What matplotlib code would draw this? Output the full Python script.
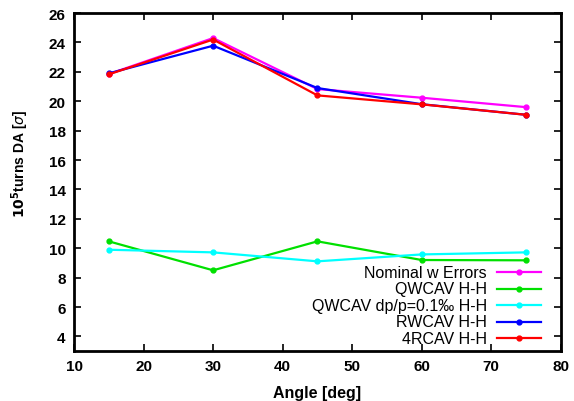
import matplotlib
matplotlib.use("Agg")
import matplotlib.pyplot as plt

angles = [15, 30, 45, 60, 75]
nominal = [21.85, 24.3, 20.83, 20.24, 19.6]
qwcav = [10.47, 8.5, 10.47, 9.2, 9.18]
qwcav_dp = [9.9, 9.72, 9.11, 9.58, 9.72]
rwcav = [21.9, 23.78, 20.9, 19.8, 19.08]
r4cav = [21.83, 24.2, 20.4, 19.79, 19.08]

labels = ["Nominal w Errors", "QWCAV H-H", "QWCAV dp/p=0.1\u2030 H-H", "RWCAV H-H", "4RCAV H-H"]
colors = ["#ff00ff", "#00e000", "#00ffff", "#0000ff", "#ff0000"]
series = [nominal, qwcav, qwcav_dp, rwcav, r4cav]

plt.rcParams['font.family'] = ['Liberation Sans', 'DejaVu Sans']

fig = plt.figure(figsize=(5.74, 4.02), dpi=100)
ax = fig.add_axes([0.129, 0.124, 0.848, 0.841])

for ys, c, lab in zip(series, colors, labels):
    ax.plot(angles, ys, color=c, lw=1.6, marker='o', ms=3.5, label=lab)

ax.set_xlim(10, 80)
ax.set_ylim(3, 26)
ax.set_xticks(range(10, 81, 10))
ax.set_yticks(range(4, 27, 2))
ax.tick_params(direction='in', top=True, right=True, length=5, width=1.2, labelsize=11, pad=6)
for lbl in ax.get_xticklabels() + ax.get_yticklabels():
    lbl.set_fontweight('bold')
for s in ax.spines.values():
    s.set_linewidth(2)

ax.set_xlabel("Angle [deg]", fontsize=11.5, fontweight='bold', va='center')
ax.xaxis.set_label_coords(0.5, -0.121)
ax.set_ylabel(r"$\mathbf{10^5}$turns DA [$\sigma$]", fontsize=10, fontweight='bold',
              va='center', ha='center')
ax.yaxis.set_label_coords(-0.111, 0.556)

# gnuplot-style legend: right-aligned text, then line sample with a marker
y0, dy = 0.234, 0.049
tx, hx0, hx1 = 0.848, 0.869, 0.959
for i, (c, lab) in enumerate(zip(colors, labels)):
    yy = y0 - i * dy
    ax.text(tx, yy, lab, transform=ax.transAxes, ha='right', va='center', fontsize=11.5)
    ax.plot([hx0, (hx0 + hx1) / 2, hx1], [yy, yy, yy], color=c, lw=1.6, marker='o',
            ms=3.5, markevery=[1], transform=ax.transAxes, clip_on=False)

fig.savefig("out.png", dpi=100)
